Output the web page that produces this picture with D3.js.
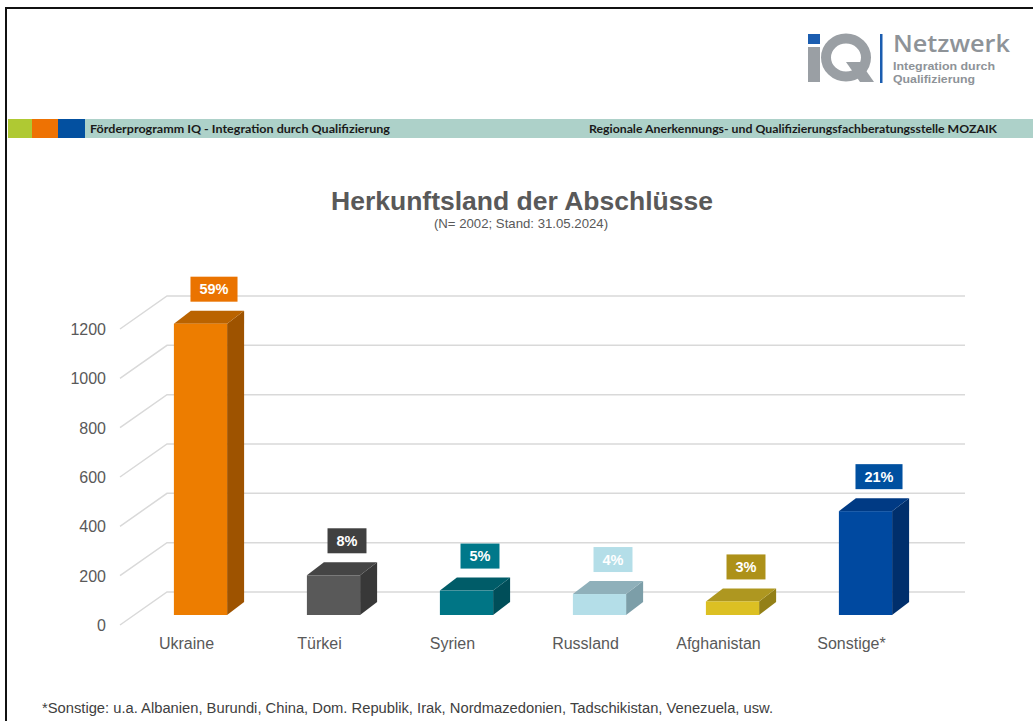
<!DOCTYPE html>
<html>
<head>
<meta charset="utf-8">
<script src="https://cdn.jsdelivr.net/npm/d3@7/dist/d3.min.js"></script>
<style>
  html, body { margin: 0; padding: 0; background: #fff; }
  svg { display: block; }
</style>
</head>
<body>
<svg id="chart" width="1033" height="721"></svg>
<script>
// ---------- data ----------
const categories = ["Ukraine", "Türkei", "Syrien", "Russland", "Afghanistan", "Sonstige*"];
const values = [1181, 161, 99, 85, 55, 421];
const percentLabels = ["59%", "8%", "5%", "4%", "3%", "21%"];
const yTicks = [0, 200, 400, 600, 800, 1000, 1200];
const frontColors = ["#ED7D00", "#595959", "#007585", "#B4DEE8", "#DCC023", "#0049A0"];
const sideColors  = ["#9E5300", "#383838", "#004E59", "#7C9EA8", "#938017", "#002F6C"];
const topColors   = ["#BA6300", "#454545", "#005C68", "#8FB0BA", "#AE9720", "#003A84"];
const labelColors = ["#EA7300", "#404040", "#00788A", "#B4DEE8", "#AD9119", "#0050A0"];

const titleText = "Herkunftsland der Abschlüsse";
const subtitleText = "(N= 2002; Stand: 31.05.2024)";
const headerLeft = "Förderprogramm IQ - Integration durch Qualifizierung";
const headerRight = "Regionale Anerkennungs- und Qualifizierungsfachberatungsstelle MOZAIK";
const footnote = "*Sonstige: u.a. Albanien, Burundi, China, Dom. Republik, Irak, Nordmazedonien, Tadschikistan, Venezuela, usw.";

// ---------- setup ----------
const svg = d3.select("#chart");
const font = "'Liberation Sans', Arial, sans-serif";
const textGray = "#595959";

// frame
svg.append("rect").attr("x", 5).attr("y", 7).attr("width", 2).attr("height", 714).attr("fill", "#111");
svg.append("rect").attr("x", 5).attr("y", 7).attr("width", 1028).attr("height", 2).attr("fill", "#111");

// header band
svg.append("rect").attr("x", 85).attr("y", 119).attr("width", 948).attr("height", 19).attr("fill", "#ADD1C9");
svg.append("rect").attr("x", 8).attr("y", 119).attr("width", 24).attr("height", 19).attr("fill", "#AFC933");
svg.append("rect").attr("x", 32).attr("y", 119).attr("width", 26).attr("height", 19).attr("fill", "#EE7203");
svg.append("rect").attr("x", 58).attr("y", 119).attr("width", 27).attr("height", 19).attr("fill", "#0350A0");
svg.append("text").attr("x", 90).attr("y", 133).attr("font-family", "Lato, 'Open Sans', sans-serif")
  .attr("font-weight", "bold").attr("font-size", 11.5).attr("fill", "#1a1a1a")
  .attr("textLength", 300).attr("lengthAdjust", "spacingAndGlyphs").text(headerLeft);
svg.append("text").attr("x", 589).attr("y", 133).attr("font-family", "Lato, 'Open Sans', sans-serif")
  .attr("font-weight", "bold").attr("font-size", 11.5).attr("fill", "#1a1a1a")
  .attr("textLength", 408).attr("lengthAdjust", "spacingAndGlyphs").text(headerRight);

// logo
const logo = svg.append("g");
const logoGray = "#9A9FA4";
logo.append("rect").attr("x", 808).attr("y", 34).attr("width", 12).attr("height", 10).attr("fill", "#1B5DB0");
logo.append("rect").attr("x", 808).attr("y", 47).attr("width", 12).attr("height", 35).attr("fill", logoGray);
logo.append("ellipse").attr("cx", 846).attr("cy", 57.5).attr("rx", 20).attr("ry", 19)
  .attr("fill", "none").attr("stroke", logoGray).attr("stroke-width", 10);
logo.append("path").attr("d", "M846,62 L860,62 L874,82 L860,82 Z").attr("fill", logoGray);
logo.append("rect").attr("x", 880).attr("y", 34).attr("width", 2.5).attr("height", 49).attr("fill", "#1B5DB0");
logo.append("text").attr("x", 893).attr("y", 52).attr("font-family", "'Open Sans', 'Noto Sans', sans-serif")
  .attr("font-weight", 600).attr("font-size", 24).attr("fill", "#8E9398")
  .attr("textLength", 117).attr("lengthAdjust", "spacingAndGlyphs").text("Netzwerk");
logo.append("text").attr("x", 893).attr("y", 70).attr("font-family", font)
  .attr("font-weight", "bold").attr("font-size", 10.5).attr("fill", "#8E9398")
  .attr("textLength", 102).attr("lengthAdjust", "spacingAndGlyphs").text("Integration durch");
logo.append("text").attr("x", 893).attr("y", 83).attr("font-family", font)
  .attr("font-weight", "bold").attr("font-size", 10.5).attr("fill", "#8E9398")
  .attr("textLength", 82).attr("lengthAdjust", "spacingAndGlyphs").text("Qualifizierung");

// title
svg.append("text").attr("x", 522).attr("y", 210).attr("text-anchor", "middle")
  .attr("font-family", font).attr("font-weight", "bold").attr("font-size", 26.5).attr("fill", textGray)
  .text(titleText);
svg.append("text").attr("x", 521).attr("y", 228).attr("text-anchor", "middle")
  .attr("font-family", font).attr("font-size", 13.2).attr("fill", textGray)
  .text(subtitleText);

// ---------- chart ----------
const frontLeft = 120, frontRight = 918;
const wallDX = 47, wallDY = -33;       // depth of floor / side wall
const barDX = 14, barDY = -10;          // offset of bar front face
const depthDX = 17, depthDY = -13;      // bar depth

const y = d3.scaleLinear().domain([0, 1200]).range([625, 329]);
const x = d3.scaleBand().domain(categories).range([frontLeft, frontRight])
  .paddingInner(0.6).paddingOuter(0.3);

const grid = svg.append("g").attr("stroke", "#D9D9D9").attr("stroke-width", 1.5).attr("fill", "none");
yTicks.forEach(v => {
  const yf = y(v);
  grid.append("path").attr("d", `M${frontLeft},${yf} L${frontLeft + wallDX},${yf + wallDY} L${frontRight + wallDX},${yf + wallDY}`);
});

// y axis labels
svg.append("g").selectAll("text").data(yTicks).join("text")
  .attr("x", 106).attr("y", d => y(d) + 6)
  .attr("text-anchor", "end").attr("font-family", font).attr("font-size", 16).attr("fill", textGray)
  .text(d => d);

// category labels
svg.append("g").selectAll("text").data(categories).join("text")
  .attr("x", d => x(d) + x.bandwidth() / 2).attr("y", 649)
  .attr("text-anchor", "middle").attr("font-family", font).attr("font-size", 16).attr("fill", textGray)
  .text(d => d);

// bars
const bw = x.bandwidth();
const bars = svg.append("g");
categories.forEach((c, i) => {
  const x0 = x(c) + barDX;
  const yt = y(values[i]) + barDY;
  const yb = y(0) + barDY;
  const g = bars.append("g");
  g.append("polygon").attr("points", [
    [x0 + bw, yt], [x0 + bw + depthDX, yt + depthDY], [x0 + bw + depthDX, yb + depthDY], [x0 + bw, yb]
  ].map(p => p.join(",")).join(" ")).attr("fill", sideColors[i]);
  g.append("polygon").attr("points", [
    [x0, yt], [x0 + depthDX, yt + depthDY], [x0 + bw + depthDX, yt + depthDY], [x0 + bw, yt]
  ].map(p => p.join(",")).join(" ")).attr("fill", topColors[i]);
  g.append("rect").attr("x", x0).attr("y", yt).attr("width", bw).attr("height", yb - yt).attr("fill", frontColors[i]);

  // percent label box
  const cx = x0 + bw / 2 + depthDX / 2 + 5;
  const boxBottom = yt + depthDY - 9;
  const lg = bars.append("g");
  const t = lg.append("text").attr("x", cx).attr("y", boxBottom - 7.5)
    .attr("text-anchor", "middle").attr("font-family", font).attr("font-weight", "bold")
    .attr("font-size", 14.5).attr("fill", "#fff").text(percentLabels[i]);
  const tw = t.node().getComputedTextLength();
  lg.insert("rect", "text").attr("x", cx - tw / 2 - 9).attr("y", boxBottom - 25)
    .attr("width", tw + 18).attr("height", 25).attr("fill", labelColors[i]);
});

// footnote
svg.append("text").attr("x", 42).attr("y", 713).attr("font-family", font).attr("font-size", 14)
  .attr("fill", "#404040").attr("textLength", 731).attr("lengthAdjust", "spacingAndGlyphs").text(footnote);
</script>
</body>
</html>
